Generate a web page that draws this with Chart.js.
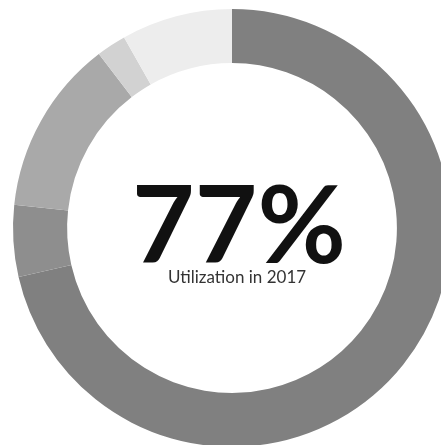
<!DOCTYPE html>
<html>
<head>
<meta charset="utf-8">
<script src="https://cdn.jsdelivr.net/npm/chart.js@4/dist/chart.umd.min.js"></script>
<style>
  html, body { margin: 0; padding: 0; background: #fff; overflow: hidden; }
  #wrap { position: absolute; left: 0; top: 9px; width: 464px; height: 438px; }
</style>
</head>
<body>
<div id="wrap"><canvas id="utilChart" width="464" height="438"></canvas></div>
<script>
// slices, clockwise from 12 o'clock (share of the ring, %)
const categories = ['A', 'B', 'C', 'D', 'E'];
const shares = [71.4, 5.3, 12.9, 2.2, 8.2];
const sliceColors = ['#808080', '#8e8e8e', '#a9a9a9', '#d2d2d2', '#ededed'];

const headline = '77%';
const caption = 'Utilization in 2017';

const centerText = {
  id: 'centerText',
  afterDraw(chart) {
    const { ctx } = chart;
    const arc = chart.getDatasetMeta(0).data[0];
    if (!arc) return;
    ctx.save();
    ctx.textAlign = 'center';
    ctx.textBaseline = 'alphabetic';
    ctx.fillStyle = '#111';
    ctx.font = 'bold 108px Lato, "Open Sans", sans-serif';
    ctx.fillText(headline, arc.x + 7, arc.y + 35);
    ctx.fillStyle = '#333';
    ctx.font = '17px Lato, "Open Sans", sans-serif';
    ctx.fillText(caption, arc.x + 5, arc.y + 55);
    ctx.restore();
  }
};

new Chart(document.getElementById('utilChart'), {
  type: 'doughnut',
  data: {
    labels: categories,
    datasets: [{
      data: shares,
      backgroundColor: sliceColors,
      borderWidth: 0
    }]
  },
  options: {
    responsive: false,
    animation: false,
    cutout: '75.3%',
    layout: { padding: 0 },
    plugins: {
      legend: { display: false },
      tooltip: { enabled: false }
    }
  },
  plugins: [centerText]
});
</script>
</body>
</html>
